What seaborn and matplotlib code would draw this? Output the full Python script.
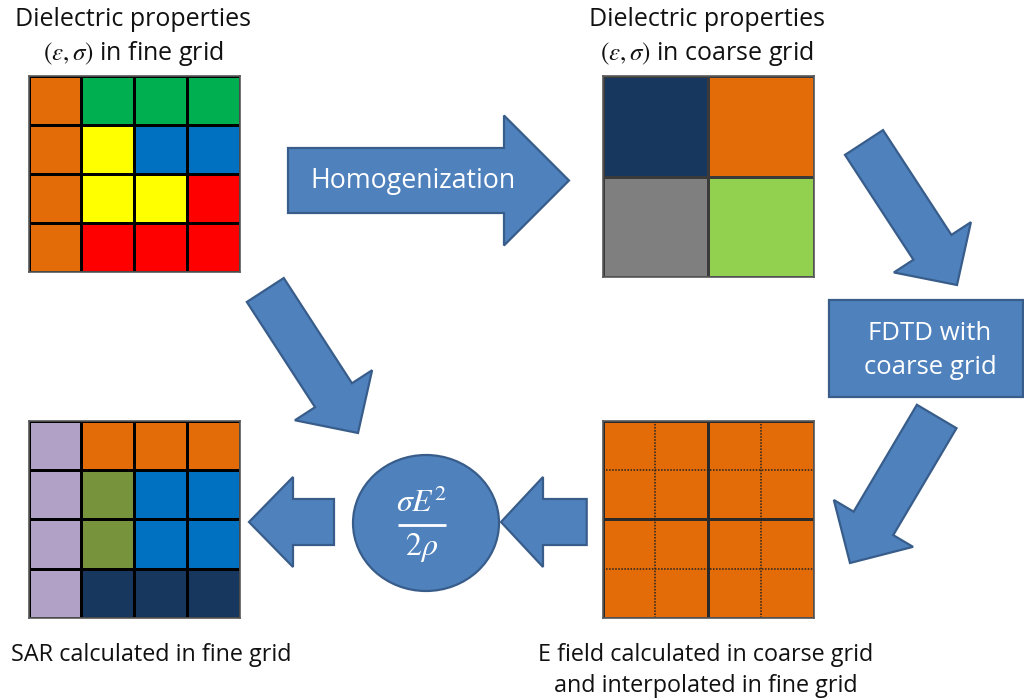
import numpy as np
import seaborn as sns
import matplotlib.pyplot as plt
from matplotlib.colors import ListedColormap
from matplotlib.patches import Polygon, Ellipse, Rectangle

W, H = 1024, 700

# cell colours of each grid, row by row (top row first)
fine_grid = [["orange", "green", "green", "green"],
             ["orange", "yellow", "blue", "blue"],
             ["orange", "yellow", "yellow", "red"],
             ["orange", "red", "red", "red"]]
coarse_grid = [["navy", "orange"],
               ["gray", "lime"]]
sar_grid = [["lavender", "orange", "orange", "orange"],
            ["lavender", "olive", "blue", "blue"],
            ["lavender", "olive", "blue", "blue"],
            ["lavender", "navy", "navy", "navy"]]
efield_grid = [["orange", "orange"],
               ["orange", "orange"]]

palette = {"orange": "#E36C09", "green": "#00B050", "yellow": "#FFFF00",
           "blue": "#0070C0", "red": "#FF0000", "navy": "#17375E",
           "gray": "#7F7F7F", "lime": "#92D050", "lavender": "#B2A1C7",
           "olive": "#77933C"}

fine_title = ["Dielectric properties", r"$(\varepsilon,\sigma)$ in fine grid"]
coarse_title = ["Dielectric properties", r"$(\varepsilon,\sigma)$ in coarse grid"]
sar_label = ["SAR calculated in fine grid"]
efield_label = ["E field calculated in coarse grid", "and interpolated in fine grid"]

BLUE = "#4F81BD"
EDGE = "#385D8A"

sns.set_style("white")
plt.rcParams["font.family"] = ["Open Sans", "DejaVu Sans"]
plt.rcParams["text.color"] = "#111111"

fig = plt.figure(figsize=(W / 100, H / 100), dpi=100)
ax = fig.add_axes([0, 0, 1, 1])
ax.set_xlim(0, W)
ax.set_ylim(H, 0)
ax.axis("off")


def px_axes(x0, y0, x1, y1):
    return fig.add_axes([x0 / W, 1 - y1 / H, (x1 - x0) / W, (y1 - y0) / H])


def draw_grid(cells, box, lc="black", lw=0.9):
    names = list(palette)
    mat = np.array([[names.index(c) for c in row] for row in cells])
    gax = px_axes(*box)
    sns.heatmap(mat, cmap=ListedColormap(list(palette.values())),
                vmin=-0.5, vmax=len(names) - 0.5, cbar=False,
                linewidths=lw, linecolor=lc, xticklabels=False,
                yticklabels=False, ax=gax)
    for s in gax.spines.values():
        s.set_visible(True)
        s.set_color("#595959")
        s.set_linewidth(1.2)
    return gax


def arrow(tail, tip, shaft, head, head_len):
    tail = np.array(tail, float)
    tip = np.array(tip, float)
    u = (tip - tail) / np.linalg.norm(tip - tail)
    n = np.array([-u[1], u[0]])
    base = tip - u * head_len
    pts = [tail + n * shaft, base + n * shaft, base + n * head, tip,
           base - n * head, base - n * shaft, tail - n * shaft]
    ax.add_patch(Polygon(pts, closed=True, fc=BLUE, ec=EDGE, lw=1.6,
                         joinstyle="miter"))


# grids
draw_grid(fine_grid, (28.5, 76, 239.5, 272.5))
draw_grid(coarse_grid, (602.5, 76, 814, 277), lc="#3a3a3a")
draw_grid(sar_grid, (28.5, 420.5, 239.5, 618))
eax = draw_grid(efield_grid, (602.5, 420.5, 814, 618), lc="#2a2a2a")
for p in (0.5, 1.5):
    eax.axhline(p, color="#222222", lw=1.1, ls=(0, (1, 1)))
    eax.axvline(p, color="#222222", lw=1.1, ls=(0, (1, 1)))

# arrows
arrow((288, 180.5), (569, 180.5), 32.5, 65, 65)
arrow((864, 142.5), (957, 285), 22.7, 46, 45)
arrow((936.7, 416.5), (850, 563), 23, 46, 46)
arrow((265.3, 290), (358, 433), 22, 46, 45)
arrow((586.7, 522), (501, 522), 23, 45, 42)
arrow((334, 522), (249, 522), 23, 45, 44)

# FDTD box and formula circle
ax.add_patch(Rectangle((829, 300), 194, 97, fc=BLUE, ec=EDGE, lw=1.6))
ax.add_patch(Ellipse((426, 523), 146, 136, fc=BLUE, ec=EDGE, lw=1.6))

# texts
ax.text(413, 181, "Homogenization", color="white", fontsize=19.3,
        ha="center", va="center")
ax.text(930, 333, "FDTD with", color="white", fontsize=18.5,
        ha="center", va="center")
ax.text(930, 367, "coarse grid", color="white", fontsize=18.5,
        ha="center", va="center")
ax.text(422, 503, r"$\sigma E^2$", color="white", fontsize=23,
        ha="center", va="center", math_fontfamily="stix")
ax.plot([398, 446], [524.5, 524.5], color="white", lw=2,
        solid_capstyle="butt")
ax.text(422, 548, r"$2\rho$", color="white", fontsize=23,
        ha="center", va="center", math_fontfamily="stix")

for i, line in enumerate(fine_title):
    ax.text(133, 20 + 33 * i, line, fontsize=18, ha="center", va="center",
            math_fontfamily="stix")
for i, line in enumerate(coarse_title):
    ax.text(707, 20 + 33 * i, line, fontsize=18, ha="center", va="center",
            math_fontfamily="stix")
for i, line in enumerate(sar_label):
    ax.text(151, 655 + 31 * i, line, fontsize=16.8, ha="center", va="center")
for i, line in enumerate(efield_label):
    ax.text(706, 655 + 31 * i, line, fontsize=16.8, ha="center", va="center")

fig.savefig("out.png", dpi=100, facecolor="white")
